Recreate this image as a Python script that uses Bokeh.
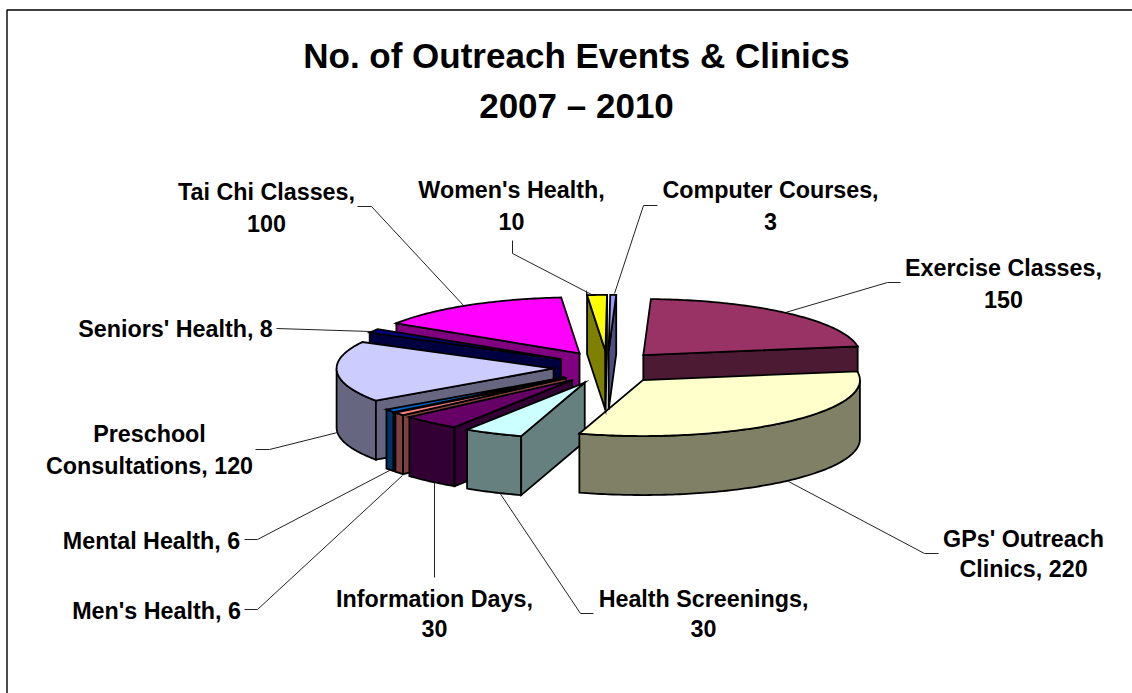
import math
from bokeh.plotting import figure
from bokeh.models import Range1d
from bokeh.core.properties import value
from bokeh.embed import file_html
from bokeh.resources import INLINE

# ---- data ----
categories = ["Exercise Classes", "GPs' Outreach Clinics", "Health Screenings", "Information Days",
              "Men's Health", "Mental Health", "Preschool Consultations", "Seniors' Health",
              "Tai Chi Classes", "Women's Health", "Computer Courses"]
values = [150, 220, 30, 30, 6, 6, 120, 8, 100, 10, 3]
top_colors = ["#993366", "#FFFFCC", "#CCFFFF", "#660066", "#FF8080", "#0066CC",
              "#CCCCFF", "#000080", "#FF00FF", "#FFFF00", "#9999FF"]
side_colors = ["#4D1A33", "#808066", "#668080", "#330033", "#804040", "#003366",
               "#666680", "#000040", "#800080", "#808000", "#4D4D80"]
title_lines = ["No. of Outreach Events & Clinics", "2007 \u2013 2010"]
label_lines = [["Exercise Classes,", "150"], ["GPs' Outreach", "Clinics, 220"],
               ["Health Screenings,", "30"], ["Information Days,", "30"],
               ["Men's Health, 6"], ["Mental Health, 6"],
               ["Preschool", "Consultations, 120"], ["Seniors' Health, 8"],
               ["Tai Chi Classes,", "100"], ["Women's Health,", "10"],
               ["Computer Courses,", "3"]]

# ---- layout (page pixels) ----
CX, CY = 607, 367
A, B = 217, 56
EX, EY = 54, 16.6
DEPTH = 59
START = 2.0
DRAW_ORDER = [8, 7, 6, 5, 4, 3, 2, 0, 1, 9, 10]
label_pos = [[(1003, 267), (1003, 299)], [(1023, 538), (1023, 568)],
             [(703, 598), (703, 628)], [(434, 598), (434, 628)],
             [(156, 610)], [(151, 540)],
             [(149, 433), (149, 465)], [(175, 328)],
             [(266, 191), (266, 223)], [(511, 189), (511, 221)],
             [(770, 189), (770, 221)]]
leaders = [[(900, 282), (887, 282), (785, 312)], [(938, 553), (924, 553), (788, 481)],
           [(593, 613), (580, 613), (499, 492)], [(434, 577), (434, 482)],
           [(244, 609), (257, 609), (402, 475)], [(244, 539), (257, 539), (389, 470)],
           [(255, 449), (269, 449), (337, 432)], [(276, 328), (370, 331)],
           [(357, 206), (371, 206), (464, 306)], [(512, 240), (512, 253), (593, 295)],
           [(657, 205), (643, 205), (614, 293)]]

total = sum(values)


def rim(ax, ay, deg):
    t = math.radians(deg)
    return ax + A * math.sin(t), ay - B * math.cos(t)


def arc(ax, ay, a0, a1):
    n = max(2, int(abs(a1 - a0)) + 2)
    return [rim(ax, ay, a0 + (a1 - a0) * i / (n - 1)) for i in range(n)]


spans = []
cur = START
for v in values:
    spans.append((cur, cur + v / total * 360))
    cur += v / total * 360

xs, ys, fills = [], [], []


def add(poly, col):
    xs.append([q[0] for q in poly])
    ys.append([q[1] for q in poly])
    fills.append(col)


for i in DRAW_ORDER:
    a0, a1 = spans[i]
    mid = math.radians((a0 + a1) / 2)
    ax, ay = CX + EX * math.sin(mid), CY - EY * math.cos(mid)
    # outer curved wall, only the part turned to the viewer
    f0, f1 = max(a0, 90), min(a1, 270)
    if f1 > f0:
        upper = arc(ax, ay, f0, f1)
        add(upper + [(x, y + DEPTH) for x, y in reversed(upper)], side_colors[i])
    # cut faces
    for ang, visible in ((a0, 180 < a0 % 360 < 360), (a1, 0 < a1 % 360 < 180)):
        if visible:
            ox, oy = rim(ax, ay, ang)
            add([(ax, ay), (ox, oy), (ox, oy + DEPTH), (ax, ay + DEPTH)], side_colors[i])
    add([(ax, ay)] + arc(ax, ay, a0, a1), top_colors[i])

p = figure(width=1132, height=693, output_backend="svg", toolbar_location=None,
           x_range=Range1d(0, 1132), y_range=Range1d(693, 0),
           min_border=0, outline_line_color=None, background_fill_color="white")
p.axis.visible = False
p.grid.visible = False

# chart frame, top and left sides only
p.line([6.5, 6.5, 1132], [693, 9.5, 9.5], line_color="#000000", line_width=1.4)

p.multi_line([[q[0] for q in l] for l in leaders], [[q[1] for q in l] for l in leaders],
             line_color="#222222", line_width=1)

p.patches(xs, ys, fill_color=fills, line_color="#000000", line_width=1.8, line_join="miter")

tx, ty, tt = [], [], []
for lines, pos in zip(label_lines, label_pos):
    for s, (x, y) in zip(lines, pos):
        tx.append(x); ty.append(y); tt.append(s)
p.text(tx, ty, text=tt, text_font=value("Liberation Sans"), text_font_style="bold",
       text_font_size="23.3px", text_align="center", text_baseline="middle", text_color="#000000")
p.text([576, 576], [55, 105], text=title_lines, text_font=value("Liberation Sans"),
       text_font_style="bold", text_font_size="35px", text_align="center",
       text_baseline="middle", text_color="#000000")

html = file_html(p, INLINE)
html = html.replace("<head>", "<head><style>html,body{margin:0;overflow:hidden}</style>", 1)
open("out.html", "w").write(html)
